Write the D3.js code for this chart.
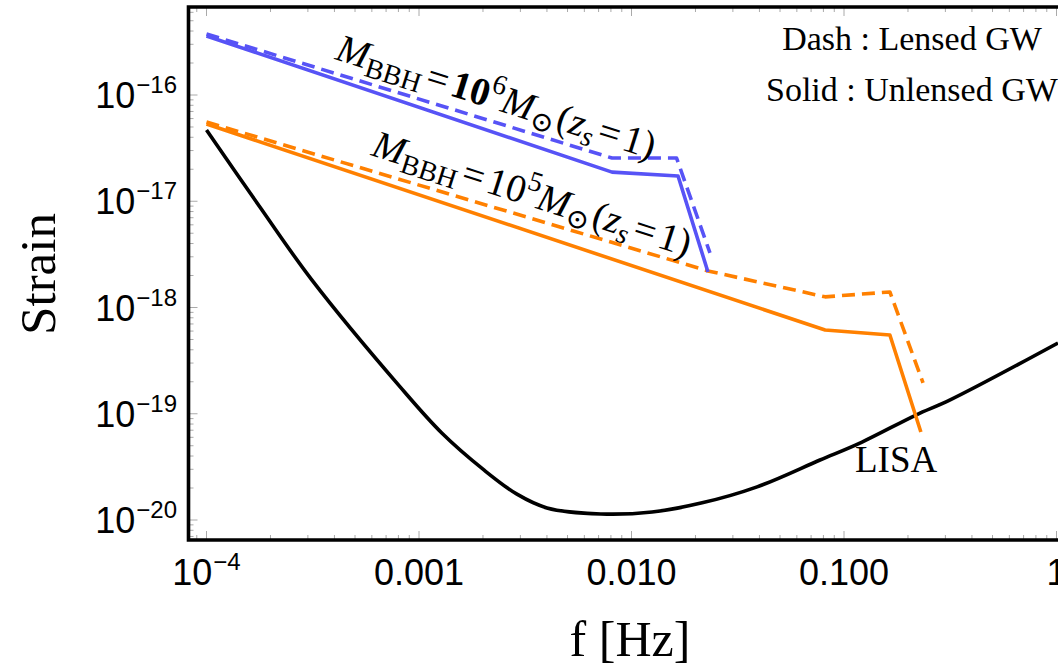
<!DOCTYPE html>
<html><head><meta charset="utf-8">
<script src="https://cdn.jsdelivr.net/npm/d3@7"></script>
<style>html,body{margin:0;padding:0;background:#fff;overflow:hidden}</style>
</head><body>
<svg id="chart" width="1058" height="666"></svg>
<script>
// ---------------- data ----------------
const xTickValues = [1e-4, 1e-3, 1e-2, 1e-1, 1];
const xTickLabels = ["10|−4", "0.001", "0.010", "0.100", "1"];
const yTickValues = [1e-16, 1e-17, 1e-18, 1e-19, 1e-20];
const yTickExponents = ["−16", "−17", "−18", "−19", "−20"];

// LISA sensitivity curve
const lisaF = [1e-4, 1.77e-4, 3.13e-4, 8.15e-4, 1.28e-3, 2.02e-3, 2.89e-3, 4.0e-3, 7.18e-3, 1.25e-2, 2.15e-2, 3.9e-2, 7.71e-2, 0.1216, 0.218, 0.316, 1.016];
const lisaH = [4.69e-17, 9.02e-18, 1.82e-18, 1.79e-19, 6.59e-20, 2.96e-20, 1.75e-20, 1.30e-20, 1.14e-20, 1.19e-20, 1.45e-20, 2.05e-20, 3.67e-20, 5.42e-20, 9.73e-20, 1.35e-19, 4.63e-19];

// M_BBH = 1e6 Msun
const blueSolidF = [1e-4, 0.0081, 0.01656, 0.0229];
const blueSolidH = [3.59e-16, 1.88e-17, 1.73e-17, 2.16e-18];
const blueDashF  = [1e-4, 0.0081, 0.0163, 0.0234];
const blueDashH  = [3.75e-16, 2.55e-17, 2.55e-17, 3.26e-18];

// M_BBH = 1e5 Msun
const orangeSolidF = [1e-4, 0.0815, 0.1644, 0.230];
const orangeSolidH = [5.33e-17, 6.14e-19, 5.51e-19, 6.73e-20];
const orangeDashF  = [1e-4, 0.0229, 0.0815, 0.1644, 0.2355];
const orangeDashH  = [5.57e-17, 2.21e-18, 1.26e-18, 1.40e-18, 1.95e-19];

const labelExponents = ["6", "5"];

// ---------------- layout ----------------
const frame = {left: 188.5, top: 7, right: 1063, bottom: 540};
const svg = d3.select("#chart");
const x = d3.scaleLog().domain([1e-4, 1]).range([206.5, 1056.5]);
const y = d3.scaleLog().domain([1e-16, 1e-20]).range([95, 520]);

const BLUE = "#5753f6", ORANGE = "#ff8000";
const sans = "'Liberation Sans', Arial, Helvetica, sans-serif";
const serif = "'Liberation Serif', 'Times New Roman', Times, serif";

svg.append("defs").append("clipPath").attr("id", "clip")
  .append("rect").attr("x", frame.left).attr("y", frame.top)
  .attr("width", frame.right - frame.left).attr("height", frame.bottom - frame.top);

// minor / major ticks
const xMinor = [], yMinor = [];
for (let e = -5; e <= 1; e++) for (let k = 2; k <= 9; k++) xMinor.push(k * Math.pow(10, e));
for (let e = -21; e <= -15; e++) for (let k = 2; k <= 9; k++) yMinor.push(k * Math.pow(10, e));
const xMin = xMinor.filter(v => x(v) > frame.left + 1 && x(v) < frame.right);
const yMin = yMinor.filter(v => y(v) > frame.top + 1 && y(v) < frame.bottom - 1);

const tickG = svg.append("g").attr("stroke", "#aaa").attr("stroke-width", 1);
tickG.selectAll(".xb").data(xTickValues).join("line")
  .attr("x1", d => x(d)).attr("x2", d => x(d)).attr("y1", frame.bottom).attr("y2", frame.bottom - 9);
tickG.selectAll(".xbm").data(xMin).join("line")
  .attr("x1", d => x(d)).attr("x2", d => x(d)).attr("y1", frame.bottom).attr("y2", frame.bottom - 5);
tickG.selectAll(".xt").data(xTickValues).join("line")
  .attr("x1", d => x(d)).attr("x2", d => x(d)).attr("y1", frame.top).attr("y2", frame.top + 9);
tickG.selectAll(".xtm").data(xMin).join("line")
  .attr("x1", d => x(d)).attr("x2", d => x(d)).attr("y1", frame.top).attr("y2", frame.top + 5);
tickG.selectAll(".yl").data(yTickValues).join("line")
  .attr("y1", d => y(d)).attr("y2", d => y(d)).attr("x1", frame.left).attr("x2", frame.left + 9);
tickG.selectAll(".ylm").data(yMin).join("line")
  .attr("y1", d => y(d)).attr("y2", d => y(d)).attr("x1", frame.left).attr("x2", frame.left + 5);

// ---------------- curves ----------------
const line = d3.line().x(d => x(d[0])).y(d => y(d[1]));
const smooth = d3.line().x(d => x(d[0])).y(d => y(d[1])).curve(d3.curveCatmullRom.alpha(0.5));
const plot = svg.append("g").attr("clip-path", "url(#clip)").attr("fill", "none")
  .attr("stroke-linejoin", "round");

const zip = (a, b) => a.map((v, i) => [v, b[i]]);

plot.append("path").datum(zip(lisaF, lisaH)).attr("d", smooth)
  .attr("stroke", "#000").attr("stroke-width", 3.6);

plot.append("path").datum(zip(orangeSolidF, orangeSolidH)).attr("d", line)
  .attr("stroke", ORANGE).attr("stroke-width", 3.6);
plot.append("path").datum(zip(orangeDashF, orangeDashH)).attr("d", line)
  .attr("stroke", ORANGE).attr("stroke-width", 3.6).attr("stroke-dasharray", "13,7");

plot.append("path").datum(zip(blueSolidF, blueSolidH)).attr("d", line)
  .attr("stroke", BLUE).attr("stroke-width", 3.6);
plot.append("path").datum(zip(blueDashF, blueDashH)).attr("d", line)
  .attr("stroke", BLUE).attr("stroke-width", 3.6).attr("stroke-dasharray", "13,7");

// ---------------- frame ----------------
svg.append("path")
  .attr("d", `M${frame.right},${frame.top}H${frame.left}V${frame.bottom}H${frame.right}`)
  .attr("fill", "none").attr("stroke", "#000").attr("stroke-width", 3.6);

// ---------------- tick labels ----------------
const yl = svg.append("g").attr("font-family", sans).attr("fill", "#000");
yTickValues.forEach((v, i) => {
  const t = yl.append("text").attr("x", 177).attr("y", y(v) + 13)
    .attr("text-anchor", "end").attr("font-size", 36);
  t.append("tspan").text("10");
  t.append("tspan").attr("font-size", 24).attr("dy", -15).attr("dx", 1).text(yTickExponents[i]);
});

const xl = svg.append("g").attr("font-family", sans).attr("fill", "#000");
xTickValues.forEach((v, i) => {
  const lab = xTickLabels[i];
  const t = xl.append("text").attr("x", x(v)).attr("y", 585)
    .attr("text-anchor", "middle").attr("font-size", 36);
  if (lab.includes("|")) {
    const [b, e] = lab.split("|");
    t.append("tspan").text(b);
    t.append("tspan").attr("font-size", 24).attr("dy", -15).attr("dx", 1).text(e);
  } else t.text(lab);
});

// ---------------- titles ----------------
svg.append("text").attr("x", 630).attr("y", 656).attr("text-anchor", "middle")
  .attr("font-family", serif).attr("font-size", 50).text("f [Hz]");
svg.append("text").attr("transform", "translate(55,274) rotate(-90)").attr("text-anchor", "middle")
  .attr("font-family", serif).attr("font-size", 51).text("Strain");

// ---------------- annotations ----------------
svg.append("text").attr("x", 912).attr("y", 50).attr("text-anchor", "middle")
  .attr("font-family", serif).attr("font-size", 34).text("Dash : Lensed GW");
svg.append("text").attr("x", 766).attr("y", 101).attr("text-anchor", "start")
  .attr("font-family", serif).attr("font-size", 34).text("Solid : Unlensed GW");
svg.append("text").attr("x", 855).attr("y", 472)
  .attr("font-family", serif).attr("font-size", 37).text("LISA");

function massLabel(tx, ty, ang, exp, boldTen) {
  const t = svg.append("text").attr("transform", `translate(${tx},${ty}) rotate(${ang})`)
    .attr("font-family", serif).attr("font-size", 39).attr("fill", "#000");
  t.append("tspan").attr("font-style", "italic").text("M");
  t.append("tspan").attr("font-size", 28).attr("dy", 7).text("BBH");
  t.append("tspan").attr("dy", -7).attr("dx", 4).text("=");
  t.append("tspan").attr("dx", 4).attr("font-weight", boldTen ? "bold" : "normal").text("10");
  t.append("tspan").attr("font-size", 28).attr("dy", -16).text(exp);
  t.append("tspan").attr("dy", 16).attr("font-style", "italic").text("M");
  t.append("tspan").attr("font-size", 28).attr("dy", 7).attr("font-family", "'DejaVu Serif', serif").text("⊙");
  t.append("tspan").attr("dy", -7).attr("dx", 2).text("(");
  t.append("tspan").attr("font-style", "italic").text("z");
  t.append("tspan").attr("font-size", 28).attr("dy", 7).attr("font-style", "italic").text("s");
  t.append("tspan").attr("dy", -7).attr("dx", 4).text("=");
  t.append("tspan").attr("dx", 4).text("1)");
}
massLabel(334, 59, 17.5, labelExponents[0], true);
massLabel(370, 155, 17.8, labelExponents[1], false);
</script>
</body></html>
